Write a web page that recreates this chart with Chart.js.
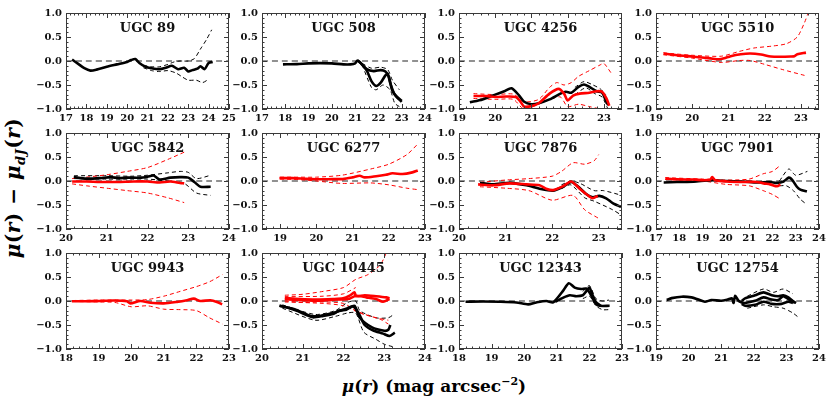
<!DOCTYPE html>
<html>
<head>
<meta charset="utf-8">
<script src="https://cdn.jsdelivr.net/npm/chart.js@4"></script>
<style>
  body { margin: 0; background: #fff; width: 831px; height: 397px; position: relative; overflow: hidden; font-family: 'DejaVu Serif', serif; }
  canvas { position: absolute; }
  .axtitle { position: absolute; font-weight: bold; font-size: 17px; text-align: center; white-space: nowrap; color: #000; }
  .axtitle sub, .axtitle sup { font-size: 11px; }
  #ytitle { font-size: 20px; letter-spacing: 0.5px; }
  #ytitle sub { font-size: 13px; }
</style>
</head>
<body>
<div class="axtitle" id="ytitle" style="left:-87px;top:175px;width:200px;height:26px;line-height:26px;transform:rotate(-90deg);"><i>μ</i>(<i>r</i>) − <i>μ</i><sub><i>dJ</i></sub>(<i>r</i>)</div>
<div class="axtitle" id="xtitle" style="left:284px;top:370px;width:300px;height:24px;line-height:24px;"><i>μ</i>(<i>r</i>) (mag arcsec<sup>−2</sup>)</div>

<script>
// Panel names and x ranges
const galaxies = ['UGC 89', 'UGC 508', 'UGC 4256', 'UGC 5510', 'UGC 5842', 'UGC 6277',
  'UGC 7876', 'UGC 7901', 'UGC 9943', 'UGC 10445', 'UGC 12343', 'UGC 12754'];
const xMins = [17, 17, 19, 19, 20, 18.5, 20, 17, 18, 20, 18, 19];
const xMaxs = [25, 24, 23.5, 23.5, 24, 23, 23.5, 24, 23, 24, 23, 24];
const yTicks = [-1, -0.5, 0, 0.5, 1];

// UGC 89
const u89Black = [[17.3,0.03],[17.6,-0.06],[17.9,-0.15],[18.2,-0.2],[18.5,-0.18],[19,-0.12],[19.5,-0.07],[20,-0.02],[20.2,0.02],[20.4,0.04],[20.6,-0.04],[20.9,-0.12],[21.2,-0.15],[21.6,-0.17],[21.9,-0.14],[22.2,-0.1],[22.5,-0.17],[22.8,-0.14],[23,-0.22],[23.2,-0.19],[23.45,-0.16],[23.6,-0.11],[23.8,-0.17],[24,-0.04],[24.2,-0.02]];
const u89BlackHi = [[20.8,-0.09],[21.2,-0.12],[21.6,-0.12],[22,-0.07],[22.3,-0.02],[22.6,0.0],[23,0.0],[23.3,0.05],[23.6,0.25],[23.9,0.45],[24.15,0.65]];
const u89BlackLo = [[20.8,-0.14],[21.2,-0.2],[21.6,-0.22],[22,-0.2],[22.4,-0.25],[22.7,-0.33],[23,-0.4],[23.4,-0.4],[23.7,-0.45],[24,-0.38]];

// UGC 508
const u508Black = [[17.9,-0.07],[18.5,-0.065],[19,-0.05],[19.5,-0.045],[20,-0.05],[20.5,-0.07],[20.8,-0.07],[21.0,-0.05],[21.1,0.01],[21.25,-0.05],[21.5,-0.2],[21.7,-0.42],[21.9,-0.52],[22.1,-0.45],[22.3,-0.3],[22.4,-0.27],[22.5,-0.45],[22.7,-0.7],[23.0,-0.85]];
const u508BlackB = [[21.1,0.01],[21.25,-0.05],[21.5,-0.17],[21.8,-0.21],[22.1,-0.19],[22.3,-0.22],[22.45,-0.33],[22.6,-0.62],[22.8,-0.75],[23.0,-0.83]];
const u508BlackHi = [[21.3,-0.05],[21.7,-0.15],[22.1,-0.13],[22.4,-0.18],[22.6,-0.4],[22.9,-0.6]];
const u508BlackLo = [[21.3,-0.08],[21.7,-0.55],[21.9,-0.6],[22.2,-0.5],[22.5,-0.6],[22.7,-0.88],[22.9,-0.95]];

// UGC 4256
const u4256Black = [[19.3,-0.86],[19.65,-0.8],[20,-0.7],[20.25,-0.63],[20.45,-0.57],[20.65,-0.71],[20.8,-0.85],[21,-0.9],[21.2,-0.88],[21.5,-0.8],[21.8,-0.68],[21.95,-0.64],[22.1,-0.66],[22.3,-0.54],[22.45,-0.49],[22.6,-0.54],[22.8,-0.63],[22.95,-0.66],[23.05,-0.82],[23.12,-0.92]];
const u4256BlackHi = [[22.2,-0.55],[22.45,-0.43],[22.7,-0.5],[22.9,-0.58],[23.05,-0.7]];
const u4256BlackLo = [[22.2,-0.7],[22.5,-0.56],[22.75,-0.68],[22.95,-0.75],[23.1,-0.98]];
const u4256Red = [[19.4,-0.73],[19.75,-0.73],[20,-0.75],[20.3,-0.74],[20.57,-0.75],[20.7,-0.85],[20.8,-0.95],[21,-0.94],[21.2,-0.88],[21.5,-0.68],[21.75,-0.58],[21.9,-0.68],[22,-0.82],[22.15,-0.72],[22.33,-0.68],[22.6,-0.66],[22.8,-0.63],[22.95,-0.64],[23.07,-0.78],[23.15,-0.93]];
const u4256RedHi = [[19.4,-0.68],[20,-0.7],[20.5,-0.69],[20.8,-0.85],[21.2,-0.8],[21.5,-0.55],[21.7,-0.45],[21.9,-0.5],[22.1,-0.45],[22.3,-0.32],[22.6,-0.2],[22.9,-0.08],[23.0,-0.05],[23.2,-0.25]];
const u4256RedLo = [[19.4,-0.78],[20,-0.8],[20.5,-0.8],[20.8,-1.0],[21.5,-0.8],[21.8,-0.75],[22,-0.95],[22.3,-0.9],[22.6,-0.95],[22.9,-1.0]];

// UGC 5510
const u5510Red = [[19.21,0.155],[19.58,0.12],[20.04,0.09],[20.5,0.055],[20.74,0.035],[20.88,0.055],[21.06,0.1],[21.34,0.14],[21.6,0.155],[21.9,0.135],[22.17,0.095],[22.45,0.09],[22.72,0.095],[22.82,0.1],[22.9,0.14],[23.14,0.175]];
const u5510RedHi = [[19.2,0.17],[20,0.12],[20.8,0.1],[21.3,0.2],[21.7,0.27],[22.2,0.31],[22.6,0.36],[22.9,0.5],[23.1,0.8],[23.2,1.0]];
const u5510RedLo = [[19.2,0.13],[20,0.06],[20.8,-0.03],[21.3,0.01],[21.6,0.01],[22,-0.07],[22.5,-0.18],[23.1,-0.3]];

// UGC 5842
const u5842Black = [[20.19,0.08],[20.5,0.05],[20.84,0.06],[21.09,0.08],[21.3,0.06],[21.5,0.07],[21.82,0.07],[22.0,0.09],[22.15,0.115],[22.3,0.03],[22.56,0.07],[22.8,0.08],[23.0,0.07],[23.15,-0.02],[23.3,-0.12],[23.55,-0.12]];
const u5842BlackHi = [[20.2,0.11],[21,0.11],[21.6,0.1],[22,0.12],[22.5,0.17],[22.8,0.2],[23,0.18],[23.2,0.05],[23.55,0.12]];
const u5842BlackLo = [[20.2,0.05],[21,0.04],[21.6,0.04],[22,0.04],[22.5,0.0],[22.9,-0.05],[23.2,-0.25],[23.55,-0.3]];
const u5842Red = [[20.15,-0.01],[20.5,-0.01],[20.84,-0.02],[21.25,-0.02],[21.66,-0.01],[22.0,-0.01],[22.3,-0.03],[22.56,-0.01],[22.8,-0.04],[22.9,-0.05]];
const u5842RedHi = [[20.15,0.05],[20.5,0.08],[21,0.13],[21.5,0.2],[22,0.28],[22.5,0.45],[22.9,0.6]];
const u5842RedLo = [[20.15,-0.06],[20.5,-0.1],[21,-0.15],[21.5,-0.2],[22,-0.25],[22.5,-0.35],[22.9,-0.45]];

// UGC 6277
const u6277Red = [[18.98,0.06],[19.35,0.06],[19.72,0.045],[20.08,0.035],[20.45,0.04],[20.73,0.04],[21.0,0.075],[21.2,0.11],[21.33,0.075],[21.65,0.1],[21.92,0.13],[22.1,0.16],[22.38,0.145],[22.65,0.18],[22.8,0.22]];
const u6277RedHi = [[19,0.08],[19.5,0.08],[20,0.08],[20.7,0.12],[21.5,0.25],[22,0.35],[22.5,0.55],[22.8,0.77]];
const u6277RedLo = [[19,0.04],[19.5,0.03],[20,0.0],[20.7,-0.05],[21.5,-0.04],[22,-0.08],[22.5,-0.15],[22.8,-0.18]];

// UGC 7876
const u7876Black = [[20.45,-0.04],[20.73,-0.07],[21.09,-0.04],[21.45,-0.09],[21.73,-0.16],[22.02,-0.2],[22.23,-0.12],[22.41,-0.02],[22.55,-0.11],[22.73,-0.27],[22.87,-0.34],[23.01,-0.31],[23.16,-0.36],[23.3,-0.46],[23.48,-0.54]];
const u7876BlackHi = [[22.2,-0.08],[22.4,0.0],[22.6,-0.05],[22.9,-0.2],[23.1,-0.2],[23.5,-0.3]];
const u7876BlackLo = [[22.2,-0.16],[22.4,-0.08],[22.7,-0.35],[22.9,-0.42],[23.3,-0.6],[23.5,-0.72]];
const u7876Red = [[20.41,-0.07],[20.73,-0.09],[21.09,-0.05],[21.45,-0.07],[21.73,-0.09],[21.87,-0.16],[22.02,-0.19],[22.23,-0.11],[22.41,-0.01],[22.59,-0.16],[22.73,-0.27],[22.87,-0.36],[22.98,-0.31]];
const u7876RedHi = [[20.45,-0.03],[21,0.02],[21.5,0.05],[22.0,0.1],[22.2,0.2],[22.45,0.38],[22.7,0.35],[22.9,0.42],[23.0,0.55]];
const u7876RedLo = [[20.45,-0.12],[21,-0.15],[21.5,-0.2],[22.0,-0.4],[22.45,-0.3],[22.7,-0.6],[23.0,-0.78]];

// UGC 7901
const u7901Black = [[17.33,-0.03],[17.9,-0.02],[18.62,-0.015],[19.33,0.015],[20.05,0.0],[20.76,-0.01],[21.33,-0.03],[21.9,-0.02],[22.2,-0.04],[22.48,-0.01],[22.7,0.07],[22.84,0.03],[23.05,-0.12],[23.2,-0.18],[23.48,-0.22]];
const u7901BlackHi = [[22.3,0.0],[22.7,0.25],[23.0,0.12],[23.5,0.2]];
const u7901BlackLo = [[22.3,-0.1],[22.6,-0.1],[22.9,-0.2],[23.2,-0.38],[23.45,-0.48]];
const u7901Red = [[17.4,0.05],[17.9,0.035],[18.62,0.03],[19.05,0.015],[19.33,0.03],[19.41,0.08],[19.55,0.015],[20.05,-0.01],[20.76,-0.02],[21.33,-0.02],[21.62,-0.05],[21.9,-0.07],[22.2,-0.11],[22.34,-0.07]];
const u7901RedHi = [[17.4,0.07],[19,0.04],[20,0.02],[21,0.04],[21.6,0.15],[22.0,0.2],[22.35,0.33]];
const u7901RedLo = [[17.4,0.03],[19,0.0],[20,-0.07],[21,-0.1],[21.6,-0.2],[22.0,-0.28],[22.35,-0.38]];

// UGC 9943
const u9943Red = [[18.18,-0.005],[18.64,-0.005],[19.05,0.0],[19.46,0.01],[19.87,-0.005],[19.97,-0.05],[20.28,0.0],[20.59,-0.035],[21.0,-0.05],[21.4,-0.02],[21.71,0.015],[21.92,0.05],[22.12,0.0],[22.43,0.015],[22.63,-0.02],[22.79,-0.07]];
const u9943RedHi = [[18.2,0.01],[19,0.02],[19.5,0.02],[20,0.02],[20.5,0.03],[21,0.1],[21.5,0.2],[22,0.3],[22.4,0.4],[22.8,0.55]];
const u9943RedLo = [[18.2,-0.01],[19,-0.02],[19.5,-0.03],[20,-0.12],[20.5,-0.1],[21,-0.17],[21.5,-0.18],[22,-0.2],[22.4,-0.35],[22.8,-0.48]];

// UGC 10445
const u10445RedA = [[20.56,0.06],[20.92,0.04],[21.33,0.03],[21.74,0.04],[21.99,0.055],[22.15,0.11],[22.27,0.18],[22.31,0.1],[22.52,0.12],[22.8,0.1],[23.05,0.075],[23.13,0.055]];
const u10445RedB = [[20.56,0.04],[21.33,0.005],[21.82,0.03],[22.15,0.05],[22.31,0.11],[22.56,0.075],[22.8,0.04],[22.97,-0.015],[23.13,0.04]];
const u10445RedHiA = [[20.56,0.12],[21,0.14],[21.5,0.2],[22,0.28],[22.3,0.45],[22.6,0.55],[22.9,0.75],[23.05,1.0]];
const u10445RedHiB = [[20.56,0.09],[21.5,0.1],[22,0.15],[22.3,0.28]];
const u10445RedLoA = [[20.56,0.0],[21,-0.03],[21.5,-0.02],[22.0,-0.05],[22.3,-0.2],[22.6,-0.3],[22.9,-0.38],[23.1,-0.48]];
const u10445RedLoB = [[20.56,-0.02],[21.5,-0.05],[22,-0.1],[22.4,-0.25],[22.8,-0.35],[23.1,-0.4]];
const u10445BlackA = [[20.43,-0.1],[20.6,-0.13],[20.84,-0.2],[21.09,-0.29],[21.25,-0.34],[21.5,-0.31],[21.74,-0.27],[21.9,-0.2],[22.07,-0.18],[22.2,-0.12],[22.27,-0.13],[22.4,-0.3],[22.52,-0.5],[22.72,-0.61],[22.97,-0.68],[23.13,-0.73],[23.26,-0.66]];
const u10445BlackB = [[20.43,-0.1],[20.8,-0.17],[21.25,-0.32],[21.74,-0.25],[22.1,-0.15],[22.27,-0.1],[22.4,-0.35],[22.7,-0.55],[23.0,-0.62],[23.1,-0.6],[23.15,-0.5]];
const u10445BlackHi = [[20.5,-0.08],[21.3,-0.28],[21.8,-0.2],[22.1,-0.03],[22.3,0.0],[22.4,-0.2],[22.8,-0.35],[23.1,-0.35],[23.2,-0.3]];
const u10445BlackLo = [[20.5,-0.15],[21.3,-0.4],[21.8,-0.32],[22.1,-0.25],[22.3,-0.25],[22.5,-0.65],[22.8,-0.8],[23.0,-0.9],[23.2,-0.95]];

// UGC 12343
const u12343BlackA = [[18.2,-0.015],[18.74,-0.01],[19.25,-0.015],[19.76,-0.03],[20.12,-0.07],[20.37,-0.03],[20.68,0.0],[20.88,-0.03],[20.99,0.04],[21.19,0.21],[21.37,0.37],[21.55,0.28],[21.75,0.25],[21.9,0.26],[22.0,0.18],[22.2,-0.06],[22.31,-0.1],[22.62,-0.1]];
const u12343BlackB = [[20.95,-0.02],[21.2,0.07],[21.4,0.12],[21.6,0.1],[21.8,0.12],[21.9,0.2],[22.0,0.28],[22.1,0.12],[22.2,-0.02],[22.35,-0.1]];
const u12343BlackHi = [[21.8,0.2],[22.0,0.32],[22.2,0.05],[22.4,0.0],[22.6,0.02]];
const u12343BlackLo = [[21.8,0.05],[22.0,0.1],[22.2,-0.1],[22.4,-0.18],[22.6,-0.18]];

// UGC 12754
const u12754Black = [[19.33,0.02],[19.48,0.06],[19.79,0.09],[20.09,0.075],[20.3,0.03],[20.5,-0.015],[20.7,0.02],[21.0,0.005],[21.2,0.03],[21.33,0.055],[21.38,-0.04],[21.43,0.11],[21.53,0.005],[21.63,-0.03],[21.73,-0.04],[22.04,0.005],[22.3,0.075],[22.55,0.03],[22.75,0.02],[22.9,0.1],[23.06,0.04],[23.3,-0.04]];
const u12754BlackB = [[21.63,0.0],[21.73,0.055],[22.04,0.12],[22.3,0.18],[22.55,0.12],[22.75,0.1],[22.9,0.12],[23.06,0.075],[23.26,-0.04]];
const u12754BlackC = [[21.63,-0.06],[21.73,-0.1],[22.04,-0.08],[22.3,-0.015],[22.55,-0.06],[22.85,-0.06],[23.06,-0.015],[23.2,-0.04]];
const u12754BlackHi = [[21.8,0.1],[22.3,0.25],[22.6,0.18],[22.9,0.25],[23.2,0.15]];
const u12754BlackLo = [[21.8,-0.15],[22.3,-0.08],[22.6,-0.12],[22.9,-0.15],[23.2,-0.25],[23.35,-0.33]];

// Series per panel
const redSolid = [[], [], [u4256Red], [u5510Red], [u5842Red], [u6277Red], [u7876Red], [u7901Red], [u9943Red], [u10445RedA, u10445RedB], [], []];
const blackSolid = [[u89Black], [u508Black, u508BlackB], [u4256Black], [], [u5842Black], [], [u7876Black], [u7901Black], [], [u10445BlackA, u10445BlackB], [u12343BlackA, u12343BlackB], [u12754Black, u12754BlackB, u12754BlackC]];
const redDashed = [[], [], [u4256RedHi, u4256RedLo], [u5510RedHi, u5510RedLo], [u5842RedHi, u5842RedLo], [u6277RedHi, u6277RedLo], [u7876RedHi, u7876RedLo], [u7901RedHi, u7901RedLo], [u9943RedHi, u9943RedLo], [u10445RedHiA, u10445RedHiB, u10445RedLoA, u10445RedLoB], [], []];
const blackDashed = [[u89BlackHi, u89BlackLo], [u508BlackHi, u508BlackLo], [u4256BlackHi, u4256BlackLo], [], [u5842BlackHi, u5842BlackLo], [], [u7876BlackHi, u7876BlackLo], [u7901BlackHi, u7901BlackLo], [], [u10445BlackHi, u10445BlackLo], [u12343BlackHi, u12343BlackLo], [u12754BlackHi, u12754BlackLo]];

// Layout of the 3x4 grid (plot area corners)
const colLeft = [66, 262, 459, 656];
const rowTop = [11, 131, 251];
const plotW = 163, plotH = 98;
const padL = 50, padT = 8, padR = 14, padB = 18;

const tickFont = { family: 'DejaVu Serif', weight: 'bold', size: 10 };
const fmt = v => (v < 0 ? '\u2212' : '') + Math.abs(v).toFixed(1);

// Frame with inward ticks on all sides + panel label
const framePlugin = {
  id: 'frame',
  afterDraw(chart, args, opts) {
    const { ctx, chartArea: a, scales: { x, y } } = chart;
    ctx.save();
    ctx.strokeStyle = '#3a3a3a';
    ctx.lineWidth = 1;
    ctx.strokeRect(a.left + 0.5, a.top + 0.5, a.width - 1, a.height - 1);
    ctx.beginPath();
    for (let i = Math.ceil(x.min * 5 - 1e-6); i <= Math.floor(x.max * 5 + 1e-6); i++) {
      const px = Math.round(x.getPixelForValue(i / 5)) + 0.5;
      const len = i % 5 === 0 ? 5 : 2.5;
      ctx.moveTo(px, a.bottom); ctx.lineTo(px, a.bottom - len);
      ctx.moveTo(px, a.top); ctx.lineTo(px, a.top + len);
    }
    for (let i = -10; i <= 10; i++) {
      const py = Math.round(y.getPixelForValue(i / 10)) + 0.5;
      const len = i % 5 === 0 ? 5 : 2.5;
      ctx.moveTo(a.left, py); ctx.lineTo(a.left + len, py);
      ctx.moveTo(a.right, py); ctx.lineTo(a.right - len, py);
    }
    ctx.stroke();
    ctx.fillStyle = '#111';
    ctx.font = 'bold 13px "DejaVu Serif"';
    ctx.textAlign = 'center';
    ctx.textBaseline = 'middle';
    ctx.fillText(opts.text, (a.left + a.right) / 2, a.top + 16);
    ctx.restore();
  }
};

function lineSet(data, color, width, dash, order) {
  return {
    data: data, borderColor: color, borderWidth: width, borderDash: dash,
    pointRadius: 0, fill: false, tension: 0.25, order: order
  };
}

galaxies.forEach((name, i) => {
  const col = i % 4, row = Math.floor(i / 4);
  const cv = document.createElement('canvas');
  cv.width = padL + plotW + padR;
  cv.height = padT + plotH + padB;
  cv.style.left = (colLeft[col] - padL) + 'px';
  cv.style.top = (rowTop[row] - padT) + 'px';
  document.body.appendChild(cv);

  const datasets = [];
  redSolid[i].forEach(d => datasets.push(lineSet(d, '#ff0000', 2.6, [], 0)));
  blackSolid[i].forEach(d => datasets.push(lineSet(d, '#000000', 2.6, [], 1)));
  redDashed[i].forEach(d => datasets.push(lineSet(d, '#ff0000', 1, [4, 3], 2)));
  blackDashed[i].forEach(d => datasets.push(lineSet(d, '#000000', 1, [4, 3], 3)));
  datasets.push(lineSet([[xMins[i], 0], [xMaxs[i], 0]], '#6e6e6e', 1.5, [6, 4], 10));

  new Chart(cv.getContext('2d'), {
    type: 'line',
    data: { datasets: datasets },
    options: {
      responsive: false,
      animation: false,
      devicePixelRatio: 1,
      layout: { padding: { top: padT, right: padR, left: 0, bottom: 0 } },
      plugins: { legend: { display: false }, tooltip: { enabled: false }, frame: { text: name } },
      scales: {
        x: {
          type: 'linear', min: xMins[i], max: xMaxs[i],
          grid: { display: false, drawTicks: false }, border: { display: false },
          afterBuildTicks: s => {
            s.ticks = [];
            for (let v = Math.ceil(s.min); v <= s.max + 1e-6; v++) s.ticks.push({ value: v });
          },
          afterFit: s => { s.height = padB; },
          ticks: { font: tickFont, color: '#111', padding: 3, maxRotation: 0, autoSkip: false, callback: v => String(v) }
        },
        y: {
          type: 'linear', min: -1, max: 1,
          grid: { display: false, drawTicks: false }, border: { display: false },
          afterBuildTicks: s => { s.ticks = yTicks.map(v => ({ value: v })); },
          afterFit: s => { s.width = padL; },
          ticks: { font: tickFont, color: '#111', padding: 4, autoSkip: false, callback: fmt }
        }
      }
    },
    plugins: [framePlugin]
  });
});
</script>
</body>
</html>
